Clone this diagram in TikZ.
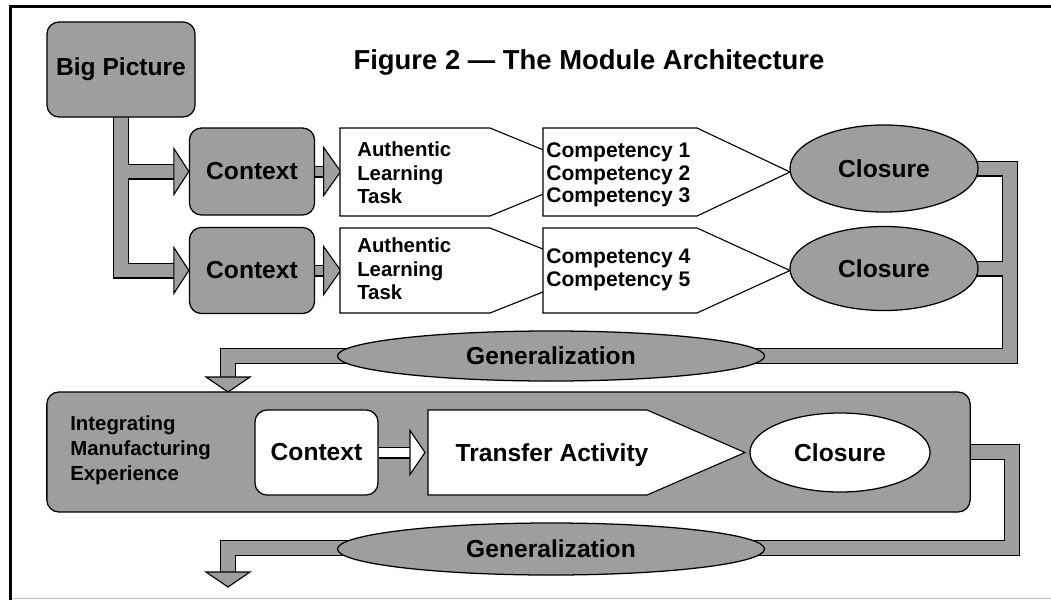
\documentclass[tikz,border=0pt]{standalone}
\usepackage{fontspec}
\setmainfont{Liberation Sans}
\usetikzlibrary{calc,shapes.geometric}
\pgfdeclarelayer{back}
\pgfsetlayers{back,main}
\definecolor{dotgray}{gray}{0.62}
\tikzset{
  graybox/.style={draw, fill=dotgray, line width=0.9pt, rounded corners=0.3cm, inner sep=0pt},
  whitebox/.style={graybox, fill=white},
  oval/.style={ellipse, draw, fill=dotgray, line width=0.9pt, inner sep=0pt},
  tag/.style={draw, fill=white, line width=0.8pt, line join=miter},
  bigtxt/.style={font=\fontsize{17.5}{20}\selectfont\bfseries},
  titletxt/.style={font=\fontsize{19.5}{22}\selectfont\bfseries},
  alttxt/.style={font=\fontsize{14.5}{16.8}\selectfont\bfseries, align=left, anchor=west, inner sep=0pt},
  comptxt/.style={alttxt, font=\fontsize{15}{16}\selectfont\bfseries},
  pipeout/.style={draw=black, line width=0.4cm},
  pipein/.style={draw=dotgray, line width=0.34cm},
  thinout/.style={draw=black, line width=0.3cm},
  thinin/.style={draw=dotgray, line width=0.24cm},
}
% hollow arrow heads: tip, half width, length
\newcommand{\rhead}[4][dotgray]{\draw[fill=#1, line width=0.8pt] ($(#2)+(-#4,#3)$) -- (#2) -- ($(#2)+(-#4,-#3)$) -- cycle;}
\newcommand{\dhead}[4][dotgray]{\draw[fill=#1, line width=0.8pt] ($(#2)+(#3,-#4)$) -- (#2) -- ($(#2)+(-#3,-#4)$) -- cycle;}

\begin{document}
\begin{tikzpicture}[x=0.025cm,y=-0.025cm]
\useasboundingbox (0,0) rectangle (1051,600);

%%% frame
\draw[line width=2.2pt] (10.5,600) -- (10.5,6.5) -- (1051,6.5);
\draw[black!25, line width=0.7pt] (12,598.5) -- (1051,598.5);

\node[titletxt] (title) at (589,62) {Figure 2 — The Module Architecture};

%%% modules
\node[graybox, bigtxt, minimum width=3.7cm, minimum height=2.375cm] (bp) at (121,69.5) {Big Picture};
\node[graybox, bigtxt, minimum width=3.125cm, minimum height=2.175cm] (ctx1) at (252,171.5) {Context};
\node[graybox, bigtxt, minimum width=3.125cm, minimum height=2.15cm] (ctx2) at (252,270.5) {Context};

\draw[tag] (340,128) -- (490,128) -- (597,172) -- (490,216) -- (340,216) -- cycle;
\draw[tag] (543,128) -- (697,128) -- (790,172) -- (697,216) -- (543,216) -- cycle;
\draw[tag] (340,228) -- (490,228) -- (597,270.5) -- (490,313) -- (340,313) -- cycle;
\draw[tag] (543,228) -- (697,228) -- (790,270.5) -- (697,313) -- (543,313) -- cycle;

\node[alttxt] (alt1) at (357,173) {Authentic\\Learning\\Task};
\node[alttxt] (alt2) at (357,269) {Authentic\\Learning\\Task};
\node[comptxt] (comp1) at (546,175) {Competency 1\\Competency 2\\Competency 3};
\node[comptxt] (comp2) at (546,270) {Competency 4\\Competency 5};

\node[oval, bigtxt, minimum width=4.7cm, minimum height=2.175cm] (cl1) at (884,168.5) {Closure};
\node[oval, bigtxt, minimum width=4.7cm, minimum height=2.1cm] (cl2) at (884,268.5) {Closure};

\node[oval, bigtxt, minimum width=10.675cm, minimum height=1.25cm] (gen1) at (551,356) {Generalization};

%%% integrating experience
\node[graybox, minimum width=23.075cm, minimum height=3cm] (int) at (508.5,452) {};
\node[alttxt, font=\fontsize{14.5}{17.8}\selectfont\bfseries] (imx) at (70,450) {Integrating\\Manufacturing\\Experience};
\node[whitebox, bigtxt, minimum width=3.075cm, minimum height=2.125cm] (ctx3) at (316.5,452.5) {Context};
\draw[tag] (428,410) -- (647,410) -- (745,452.5) -- (647,495) -- (428,495) -- cycle;
\node[bigtxt] (tra) at (552,455) {Transfer Activity};
\node[oval, fill=white, bigtxt, minimum width=4.5cm, minimum height=1.975cm] (cl3) at (840,452.5) {Closure};

\coordinate (t3) at (425,452.5);
\draw[thinout] (ctx3.east) -- ($(t3)+(-15,0)$);
\draw[thinin, draw=white] (ctx3.east) -- ($(t3)+(-15,0)$);
\rhead[white]{t3}{22}{15}

\node[oval, bigtxt, minimum width=10.675cm, minimum height=1.3cm] (gen2) at (551,549) {Generalization};

%%% pipes
\coordinate (t1) at ($(ctx1.east)+(25.5,0)$);
\coordinate (t2) at ($(ctx2.east)+(25.5,0)$);
\coordinate (r1) at (1010,356);
\coordinate (d1tip) at (228,392);
\coordinate (d1) at (228,377);
\coordinate (r2) at (1012,548);
\coordinate (d2tip) at (228,587);
\coordinate (d2) at (228,572);

\begin{pgfonlayer}{back}
\foreach \lay in {pipeout,pipein}{
  \draw[\lay] (bp.center) |- ($(ctx1.west)+(-14,0)$);
  \draw[\lay] (bp.center) |- ($(ctx2.west)+(-14,0)$);
  \draw[\lay] (cl1.center) -| (r1) -| (d1);
  \draw[\lay] (cl2.center) -- (cl2.center -| r1);
  \draw[\lay] (int.center) -| (r2) -| (d2);
}
\foreach \lay in {thinout,thinin}{
  \draw[\lay] (ctx1.center) -- ($(t1)+(-16,0)$);
  \draw[\lay] (ctx2.center) -- ($(t2)+(-16,0)$);
}
\rhead{ctx1.west}{23}{15}
\rhead{ctx2.west}{23}{15}
\rhead{t1}{24}{17}
\rhead{t2}{24}{17}
\dhead{d1tip}{22}{15}
\dhead{d2tip}{22}{15}
\end{pgfonlayer}
\end{tikzpicture}
\end{document}
